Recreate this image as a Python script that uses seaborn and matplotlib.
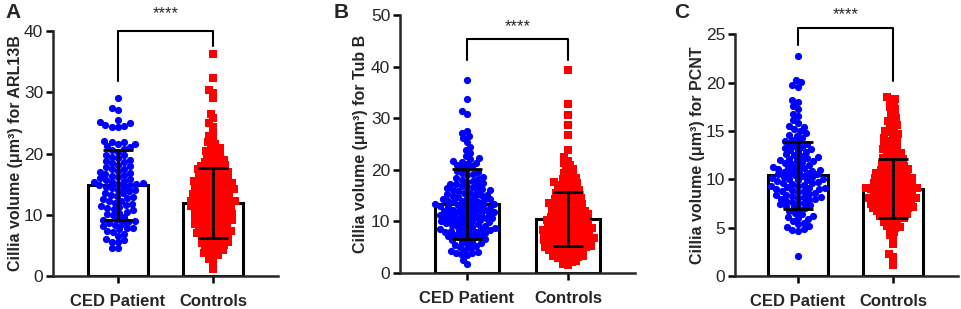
import numpy as np
import matplotlib
matplotlib.use("Agg")
import matplotlib.pyplot as plt
import seaborn as sns

groups = ["CED Patient", "Controls"]

# A - ARL13B
ced_arl13b = [29.1, 27.4, 27.1, 25.4, 25.2, 25.0, 24.6, 24.5, 24.4, 24.4,
              22.1, 21.9, 21.8, 21.6, 21.5, 21.2, 21.0, 20.8, 20.6, 20.3,
              19.8, 19.7, 19.5, 19.2, 19.0, 18.8, 18.6, 18.4, 18.2, 18.0,
              17.8, 17.5, 17.4, 17.2, 17.0, 16.8, 16.6, 16.5, 16.4, 16.2,
              16.0, 15.8, 15.6, 15.5, 15.4, 15.3, 15.2, 15.1, 15.0, 14.9,
              14.8, 14.6, 14.5, 14.3, 14.1, 14.0, 13.8, 13.6, 13.5, 13.3,
              13.1, 12.9, 12.7, 12.5, 12.3, 12.2, 12.0, 11.8, 11.6, 11.4,
              11.3, 11.1, 10.9, 10.7, 10.5, 10.3, 10.1, 9.9, 9.6, 9.3,
              9.1, 8.9, 8.8, 8.6, 8.5, 8.3, 8.1, 7.9, 7.8, 7.6,
              7.4, 7.2, 6.9, 6.5, 6.1, 5.8, 5.6, 5.5, 4.6, 4.5]
ctrl_arl13b = [36.2, 32.3, 30.3, 29.9, 29.1, 26.5, 25.8, 24.9, 24.4, 23.6,
               22.8, 22.4, 21.9, 21.6, 21.2, 20.9, 20.7, 20.4, 20.2,
               19.9, 19.7, 19.4, 19.1, 19.0, 18.9, 18.6, 18.5, 18.3, 18.1, 18.0,
               17.9, 17.7, 17.6, 17.4, 17.2, 17.1, 17.0,
               16.9, 16.8, 16.6, 16.5, 16.3, 16.2, 16.1, 16.0,
               15.9, 15.8, 15.6, 15.5, 15.4, 15.3, 15.2, 15.1, 15.0,
               14.9, 14.8, 14.7, 14.6, 14.5, 14.3, 14.2, 14.2, 14.1, 14.0,
               13.9, 13.8, 13.7, 13.6, 13.5, 13.4, 13.3, 13.2, 13.1, 13.0,
               12.9, 12.8, 12.7, 12.6, 12.5, 12.4, 12.3, 12.2, 12.1, 12.1, 12.0,
               11.9, 11.8, 11.7, 11.6, 11.5, 11.4, 11.3, 11.2, 11.1, 11.1, 11.0,
               10.9, 10.8, 10.7, 10.6, 10.5, 10.4, 10.3, 10.2, 10.1, 10.1, 10.0,
               9.9, 9.8, 9.7, 9.6, 9.5, 9.4, 9.3, 9.2, 9.1, 9.1, 9.0,
               8.9, 8.8, 8.7, 8.6, 8.5, 8.4, 8.3, 8.2, 8.1, 8.0,
               7.9, 7.8, 7.6, 7.5, 7.4, 7.3, 7.2, 7.1, 7.0,
               6.9, 6.8, 6.6, 6.5, 6.4, 6.2, 6.1, 6.0,
               5.9, 5.7, 5.6, 5.4, 5.3, 5.1, 5.0,
               4.9, 4.7, 4.5, 4.3, 4.2, 4.0, 3.8, 3.6, 3.4, 3.1, 2.7, 2.3, 1.2]
mean_arl13b = [14.9, 11.9]
sd_arl13b = [5.7, 5.75]

# B - Tub B
ced_tubb = [37.5, 33.8, 31.3, 30.8, 27.6, 27.2, 26.6, 26.2, 25.4, 24.4, 23.8, 23.2,
            22.6, 22.3, 22.0, 21.8, 21.6, 21.4, 21.2, 21.0, 20.7, 20.4, 20.1,
            19.8, 19.6, 19.3, 19.1, 18.9, 18.6, 18.4, 18.2, 18.0,
            17.9, 17.7, 17.5, 17.3, 17.2, 17.0, 16.9, 16.7, 16.6, 16.4, 16.3, 16.1, 16.0,
            15.9, 15.8, 15.6, 15.5, 15.3, 15.2, 15.1, 15.0,
            14.9, 14.7, 14.6, 14.4, 14.3, 14.2, 14.1, 14.0,
            13.9, 13.8, 13.7, 13.5, 13.4, 13.3, 13.2, 13.1, 13.0,
            12.9, 12.8, 12.7, 12.6, 12.5, 12.4, 12.3, 12.2, 12.1, 12.0,
            11.9, 11.8, 11.7, 11.6, 11.5, 11.4, 11.3, 11.2, 11.1, 11.0,
            10.9, 10.8, 10.7, 10.6, 10.5, 10.4, 10.3, 10.2, 10.1, 10.0,
            9.9, 9.8, 9.6, 9.5, 9.4, 9.3, 9.2, 9.1, 9.0,
            8.9, 8.8, 8.6, 8.5, 8.4, 8.3, 8.2, 8.1, 8.0,
            7.9, 7.8, 7.6, 7.5, 7.3, 7.2, 7.1, 7.0,
            6.9, 6.7, 6.5, 6.3, 6.1, 6.0, 5.8, 5.6, 5.4, 5.2, 5.0,
            4.8, 4.5, 4.3, 4.1, 3.9, 3.8, 3.6, 3.5, 2.5, 1.8]
ctrl_tubb = [39.4, 32.8, 30.6, 28.6, 26.8, 23.8, 22.4, 21.8, 21.3, 20.9, 20.5, 20.1,
             19.8, 19.4, 19.1, 18.8, 18.5, 18.3, 18.0,
             17.9, 17.6, 17.4, 17.2, 17.0, 16.9, 16.7, 16.4, 16.2, 16.0,
             15.9, 15.7, 15.5, 15.4, 15.2, 15.0,
             14.9, 14.8, 14.6, 14.4, 14.3, 14.1, 14.0,
             13.9, 13.7, 13.6, 13.4, 13.3, 13.1, 13.0,
             12.9, 12.8, 12.6, 12.5, 12.4, 12.2, 12.1, 12.0,
             11.9, 11.8, 11.7, 11.5, 11.4, 11.3, 11.2, 11.1, 11.0,
             10.9, 10.8, 10.7, 10.6, 10.5, 10.4, 10.3, 10.2, 10.1, 10.0,
             9.9, 9.8, 9.7, 9.6, 9.5, 9.4, 9.3, 9.2, 9.1, 9.0, 9.0,
             8.9, 8.8, 8.7, 8.6, 8.5, 8.4, 8.3, 8.3, 8.2, 8.1, 8.0, 8.0,
             7.9, 7.8, 7.7, 7.6, 7.5, 7.4, 7.3, 7.3, 7.2, 7.1, 7.0, 7.0,
             6.9, 6.8, 6.7, 6.6, 6.5, 6.4, 6.3, 6.3, 6.2, 6.1, 6.0, 6.0,
             5.9, 5.8, 5.7, 5.6, 5.5, 5.4, 5.3, 5.2, 5.1, 5.0, 5.0,
             4.9, 4.8, 4.7, 4.6, 4.5, 4.4, 4.3, 4.2, 4.1, 4.0,
             3.9, 3.7, 3.6, 3.5, 3.3, 3.2, 3.1, 3.0,
             2.9, 2.7, 2.5, 2.3, 2.1, 1.8, 1.5]
mean_tubb = [13.4, 10.5]
sd_tubb = [6.75, 5.25]

# C - PCNT
ced_pcnt = [22.8, 20.3, 20.1, 19.8, 19.6, 18.2, 18.0, 17.6, 17.3, 16.8, 16.5, 16.1,
            15.8, 15.5, 15.4, 15.2, 15.0, 14.8, 14.6, 14.5, 14.3, 14.1, 14.0,
            13.9, 13.7, 13.6, 13.4, 13.3, 13.2, 13.1, 13.0,
            12.9, 12.8, 12.6, 12.5, 12.4, 12.3, 12.2, 12.1, 12.0, 12.0,
            11.9, 11.8, 11.7, 11.6, 11.5, 11.4, 11.3, 11.2, 11.2, 11.1, 11.0, 11.0,
            10.9, 10.8, 10.8, 10.7, 10.6, 10.5, 10.5, 10.4, 10.3, 10.2, 10.2, 10.1, 10.0, 10.0,
            9.9, 9.9, 9.8, 9.7, 9.6, 9.6, 9.5, 9.4, 9.3, 9.3, 9.2, 9.1, 9.1, 9.0, 9.0,
            8.9, 8.8, 8.8, 8.7, 8.6, 8.5, 8.4, 8.4, 8.3, 8.2, 8.2, 8.1, 8.0, 8.0,
            7.9, 7.8, 7.7, 7.6, 7.5, 7.4, 7.3, 7.2, 7.1, 7.0,
            6.9, 6.7, 6.5, 6.4, 6.2, 6.1, 6.0, 5.9, 5.7, 5.5, 5.4, 5.2, 5.1,
            4.9, 4.8, 4.7, 2.1]
ctrl_pcnt = [18.5, 18.3, 18.1, 17.8, 17.5, 17.3, 17.0, 16.8, 16.5, 16.3, 16.0,
             15.9, 15.6, 15.4, 15.2, 15.0, 14.9, 14.7, 14.5, 14.3, 14.2, 14.0,
             13.9, 13.7, 13.6, 13.4, 13.3, 13.1, 13.0,
             12.9, 12.8, 12.7, 12.5, 12.4, 12.3, 12.2, 12.1, 12.0,
             11.9, 11.8, 11.7, 11.6, 11.5, 11.4, 11.4, 11.3, 11.2, 11.1, 11.0, 11.0,
             10.9, 10.9, 10.8, 10.7, 10.7, 10.6, 10.5, 10.5, 10.4, 10.3, 10.3, 10.2, 10.1, 10.1, 10.0, 10.0,
             9.9, 9.9, 9.8, 9.8, 9.7, 9.6, 9.6, 9.5, 9.5, 9.4, 9.3, 9.3, 9.2, 9.2, 9.1, 9.1, 9.0, 9.0, 9.0,
             8.9, 8.9, 8.8, 8.8, 8.7, 8.7, 8.6, 8.5, 8.5, 8.4, 8.4, 8.3, 8.3, 8.2, 8.2, 8.1, 8.1, 8.0, 8.0, 8.0,
             7.9, 7.9, 7.8, 7.8, 7.7, 7.6, 7.6, 7.5, 7.4, 7.4, 7.3, 7.3, 7.2, 7.2, 7.1, 7.1, 7.0, 7.0,
             6.9, 6.9, 6.8, 6.7, 6.7, 6.6, 6.5, 6.4, 6.4, 6.3, 6.2, 6.1, 6.0, 6.0,
             5.9, 5.8, 5.6, 5.5, 5.4, 5.2, 5.1, 5.0,
             4.8, 4.5, 4.2, 3.8, 3.3, 2.3, 2.0, 1.1]
mean_pcnt = [10.4, 9.05]
sd_pcnt = [3.45, 3.1]

sns.set_style("ticks")
plt.rcParams["font.family"] = ["Liberation Sans", "DejaVu Sans"]
plt.rcParams["axes.linewidth"] = 1.8

fig = plt.figure(figsize=(9.62, 3.09), dpi=100)
W, H = 962, 309
grow = []  # (collection, size to show after the swarm is laid out)


def swarm(ax, name, vals, color, marker, size, show):
    before = list(ax.collections)
    sns.swarmplot(x=[name] * len(vals), y=vals, order=groups, color=color,
                  marker=marker, size=size, linewidth=0, ax=ax)
    for c in ax.collections:
        if c not in before and len(c.get_offsets()):
            grow.append((c, show))


def panel(box, xlim, ced, ctrl, means, sds, ylab, ymax, ystep, bracket, star_off,
          letter, letter_x, swarm_sizes):
    left, right, bottom, top = box
    ax = fig.add_axes([left / W, 1 - bottom / H, (right - left) / W, (bottom - top) / H])
    sns.barplot(x=groups, y=means, order=groups, color="white", edgecolor="black",
                linewidth=2.2, width=0.64, errorbar=None, ax=ax)
    swarm(ax, "CED Patient", ced, "#0000ff", "o", swarm_sizes[0], 5.2)
    swarm(ax, "Controls", ctrl, "#ff0000", "s", swarm_sizes[1], 5.4)
    ax.errorbar([0, 1], means, yerr=sds, fmt="none", ecolor="black", elinewidth=2,
                capsize=11, capthick=2, zorder=5)
    ax.set_xlim(*xlim)
    ax.set_ylim(0, ymax)
    ax.set_yticks(np.arange(0, ymax + 0.1, ystep))
    sns.despine(ax=ax)
    ax.tick_params(axis="both", length=5, width=1.8, color="black")
    ax.tick_params(axis="y", labelsize=12.5, pad=2)
    ax.tick_params(axis="x", labelsize=12, pad=8)
    for t in ax.get_xticklabels():
        t.set_fontweight("bold")
    ax.set_xlabel("")
    ax.set_ylabel(ylab, fontsize=11.5, fontweight="bold")
    ax.yaxis.set_label_coords(-0.135, 0.5)
    lo, hi, yb = bracket
    ax.plot([0, 0, 1, 1], [lo, yb, yb, hi], color="black", lw=1.5, clip_on=False)
    ax.annotate("****", xy=(0.5, yb), xytext=(0, star_off), textcoords="offset points",
                ha="center", va="baseline", fontsize=12, annotation_clip=False)
    fig.text(letter_x / W, 1 - 3 / H, letter, fontsize=15, fontweight="bold",
             va="top", ha="left")
    return ax


panel((53, 278, 276, 31), (-0.684, 1.684), ced_arl13b, ctrl_arl13b, mean_arl13b, sd_arl13b,
      "Cillia volume (μm³) for ARL13B", 40, 10, (31.8, 37.5, 40), 9, "A", 5, (4.4, 3.5))
panel((400, 635, 273, 15), (-0.663, 1.663), ced_tubb, ctrl_tubb, mean_tubb, sd_tubb,
      "Cillia volume (μm³) for Tub B", 50, 10, (41.3, 41.3, 45.3), 5.8, "B", 334, (3.9, 3.3))
panel((735, 958, 276, 34.3), (-0.663, 1.684), ced_pcnt, ctrl_pcnt, mean_pcnt, sd_pcnt,
      "Cillia volume (μm³) for PCNT", 25, 5, (23.9, 20.2, 25.7), 6, "C", 674, (4.1, 3.4))

# lay out the swarms, then let the markers overlap a bit like the original
fig.canvas.draw()
for coll, size in grow:
    if "draw" in vars(coll):
        del coll.draw
    coll.set_sizes([size ** 2])

fig.savefig("out.png", dpi=100)
